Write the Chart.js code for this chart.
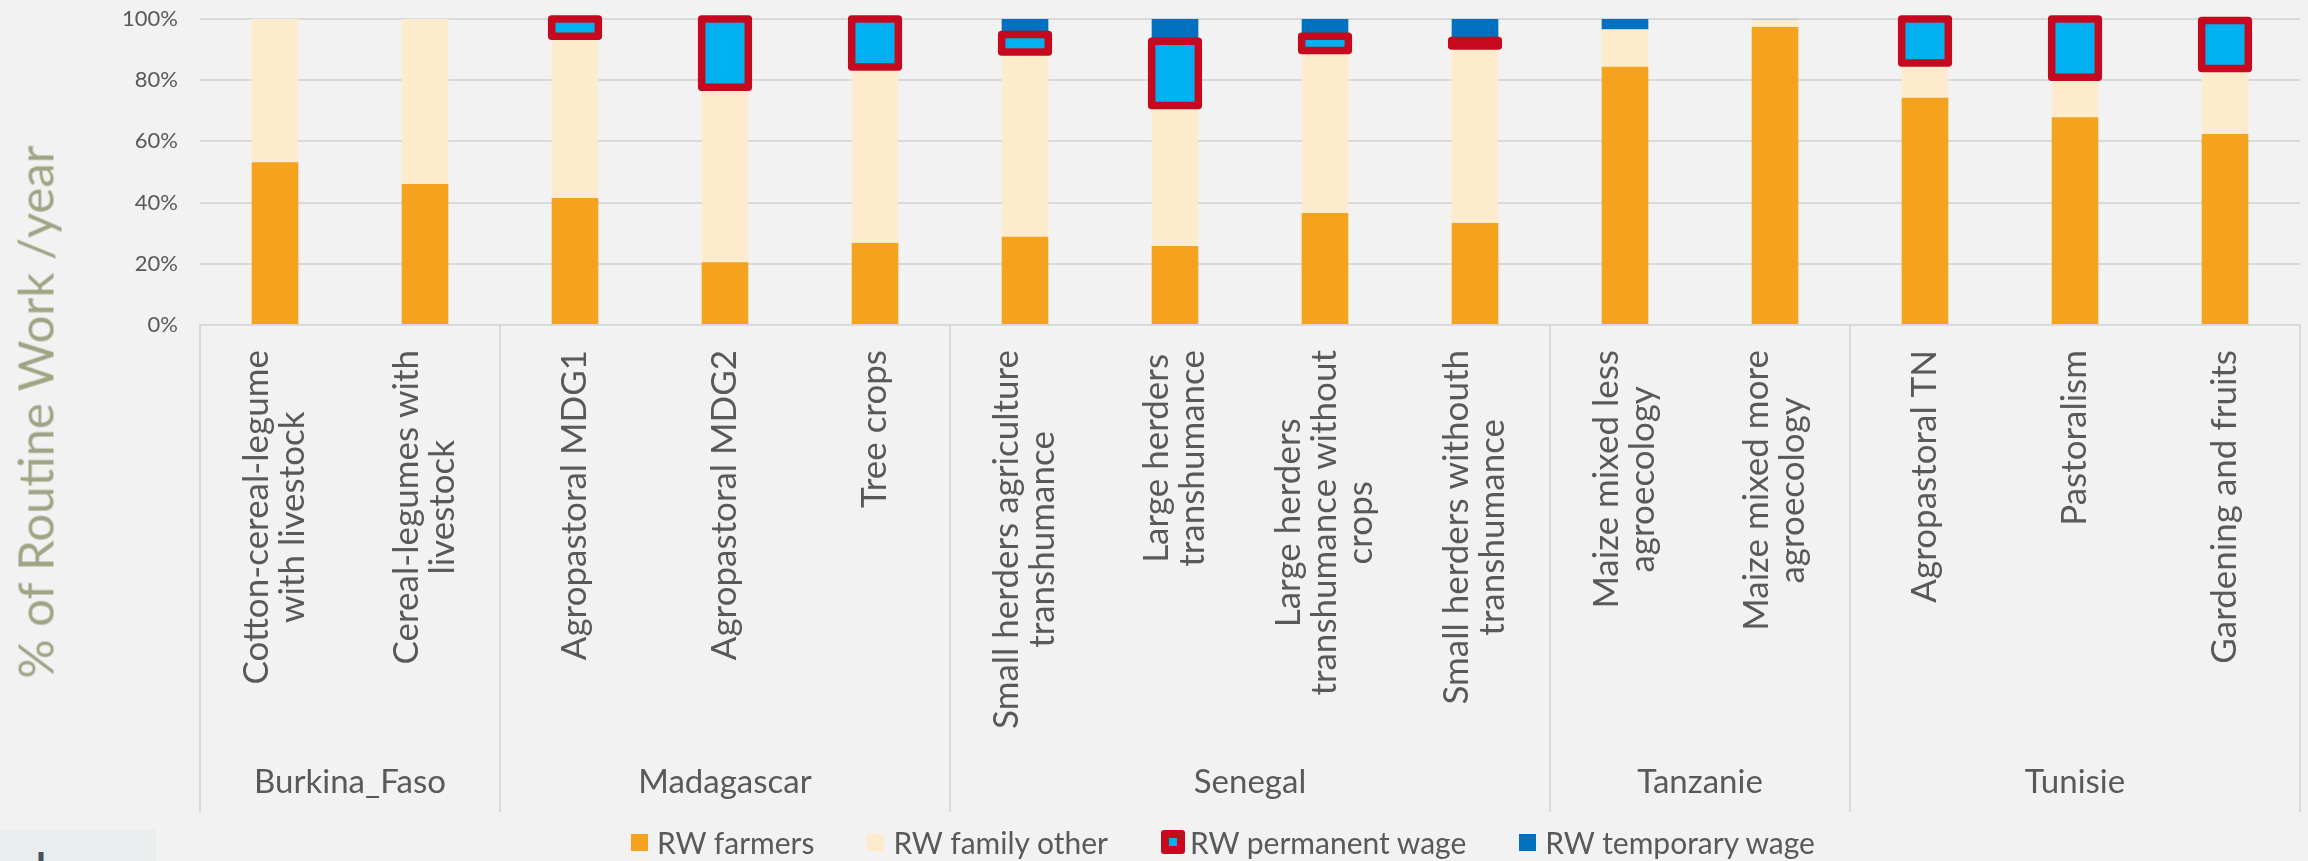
<!DOCTYPE html>
<html>
<head>
<meta charset="utf-8">
<script src="https://cdn.jsdelivr.net/npm/chart.js@4.4.1/dist/chart.umd.min.js"></script>
<style>
  html, body { margin:0; padding:0; background:#F2F2F2; overflow:hidden; }
  #wrap { position:absolute; left:0; top:0; width:2308px; height:861px; }
  #c { position:absolute; left:0; top:0; width:2308px; height:861px; }
  #ytitle { position:absolute; left:35px; top:412px; width:0; height:0; }
  #ytitle span { position:absolute; left:0; top:0; white-space:nowrap; font-family:Lato, sans-serif; font-size:49px; line-height:49px; color:#9EA585; transform:translate(-50%,-50%) rotate(-90deg); }
  #legend { position:absolute; left:631px; top:821px; height:42px; display:flex; align-items:center; font-family:Lato, sans-serif; font-size:30px; line-height:42px; color:#595959; white-space:nowrap; }
  .item { display:flex; align-items:center; margin-right:53px; }
  .mk { display:inline-block; width:17px; height:17px; margin-right:9px; box-sizing:border-box; }
  .mk.perm { width:24px; height:24px; border:8px solid #C50A20; border-radius:3px; margin-right:5px; }
  #corner { position:absolute; left:0; top:830px; width:156px; height:31px; background:#E9EDED; overflow:hidden; }
  #corner span { position:absolute; left:36px; top:17px; font-family:Lato, sans-serif; font-weight:bold; font-size:40px; line-height:40px; color:#4A5256; }
</style>
</head>
<body>
<div id="wrap">
  <canvas id="c" width="2308" height="861"></canvas>
  <div id="ytitle"><span>% of Routine Work /year</span></div>
  <div id="legend"></div>
  <div id="corner"><span>l</span></div>
</div>
<script>
// ---------- data ----------
const categories = [
  ['Cotton-cereal-legume', 'with livestock'],
  ['Cereal-legumes with', 'livestock'],
  ['Agropastoral MDG1'],
  ['Agropastoral MDG2'],
  ['Tree crops'],
  ['Small herders agriculture', 'transhumance'],
  ['Large herders', 'transhumance'],
  ['Large herders', 'transhumance without', 'crops'],
  ['Small herders withouth', 'transhumance'],
  ['Maize mixed less', 'agroecology'],
  ['Maize mixed more', 'agroecology'],
  ['Agropastoral TN'],
  ['Pastoralism'],
  ['Gardening and fruits']
];
const groups = ['Burkina_Faso', 'Madagascar', 'Senegal', 'Tanzanie', 'Tunisie'];
const groupSizes = [2, 3, 4, 2, 3];
const seriesNames = ['RW farmers', 'RW family other', 'RW permanent wage', 'RW temporary wage'];
const farmers   = [53.2, 46.1, 41.5, 20.5, 26.8, 28.8, 25.8, 36.6, 33.3, 84.4, 97.4, 74.3, 67.9, 62.4];
const family    = [46.8, 53.9, 52.9, 57.2, 57.5, 60.45, 45.9, 53.1, 57.9, 12.2, 2.4, 11.3, 13.1, 21.4];
const permanent = [0, 0, 5.6, 22.3, 15.7, 5.7, 21.0, 4.7, 1.8, 0, 0, 14.4, 19.0, 15.7];
const temporary = [0, 0, 0, 0, 0, 5.05, 7.3, 5.6, 7.0, 3.4, 0.2, 0, 0, 0.5];
const yTickValues = [0, 20, 40, 60, 80, 100];

// ---------- styles ----------
const colors = ['#F5A31E', '#FDEBCE', '#00B0F0', '#0070C0'];
const permBorder = '#C50A20';
const textColor = '#595959';
const gridColor = '#D9D9D9';
const FONT = 'Lato, sans-serif';

// ---------- legend (HTML) ----------
const legend = document.getElementById('legend');
seriesNames.forEach((name, i) => {
  const it = document.createElement('span');
  it.className = 'item';
  const mk = document.createElement('span');
  mk.className = 'mk' + (i === 2 ? ' perm' : '');
  mk.style.background = colors[i];
  const tx = document.createElement('span');
  tx.textContent = name;
  it.appendChild(mk); it.appendChild(tx);
  legend.appendChild(it);
});

// ---------- plugin: permanent-wage outline, category & group labels ----------
const decor = {
  id: 'decor',
  afterDatasetsDraw(chart) {
    const ctx = chart.ctx;
    const meta = chart.getDatasetMeta(2);
    ctx.save();
    ctx.strokeStyle = permBorder;
    ctx.lineWidth = 7.5;
    ctx.lineJoin = 'round';
    meta.data.forEach((el, i) => {
      if (!permanent[i]) return;
      const p = el.getProps(['x', 'y', 'base', 'width'], true);
      const l = p.x - p.width / 2;
      const t = Math.min(p.y, p.base);
      const h = Math.abs(p.base - p.y);
      ctx.beginPath();
      ctx.rect(l, t, p.width, h);
      ctx.stroke();
    });
    ctx.restore();
  },
  afterDraw(chart) {
    const ctx = chart.ctx;
    const xs = chart.scales.x;
    const area = chart.chartArea;
    const step = xs.getPixelForValue(1) - xs.getPixelForValue(0);
    const bounds = [xs.getPixelForValue(0) - step / 2];
    let idx = 0;
    groupSizes.forEach(n => { idx += n; bounds.push(xs.getPixelForValue(idx - 1) + step / 2); });

    ctx.save();
    // separators
    ctx.strokeStyle = gridColor;
    ctx.lineWidth = 2;
    bounds.forEach(x => {
      ctx.beginPath();
      ctx.moveTo(x, area.bottom);
      ctx.lineTo(x, 812);
      ctx.stroke();
    });
    // category labels (rotated, lines centred)
    ctx.fillStyle = textColor;
    ctx.font = '35px ' + FONT;
    const lh = 36, yTop = 350;
    categories.forEach((lines, i) => {
      const cx = xs.getPixelForValue(i);
      const maxW = Math.max(...lines.map(s => ctx.measureText(s).width));
      ctx.save();
      ctx.translate(cx, yTop);
      ctx.rotate(-Math.PI / 2);
      ctx.textAlign = 'center';
      ctx.textBaseline = 'middle';
      lines.forEach((s, j) => {
        ctx.fillText(s, -maxW / 2, (j - (lines.length - 1) / 2) * lh);
      });
      ctx.restore();
    });
    // group labels
    ctx.font = '33px ' + FONT;
    ctx.textAlign = 'center';
    ctx.textBaseline = 'alphabetic';
    groups.forEach((g, k) => {
      ctx.fillText(g, (bounds[k] + bounds[k + 1]) / 2, 793);
    });
    ctx.restore();
  }
};

const datasets = seriesNames.map((name, i) => ({
  label: name,
  data: [farmers, family, permanent, temporary][i],
  backgroundColor: colors[i],
  borderWidth: 0,
  barPercentage: 0.311,
  categoryPercentage: 1.0
}));

new Chart(document.getElementById('c'), {
  type: 'bar',
  data: { labels: categories.map(l => l.join(' ')), datasets },
  options: {
    responsive: false,
    animation: false,
    devicePixelRatio: 1,
    layout: { padding: { top: 19, right: 8, left: 0, bottom: 0 } },
    plugins: { legend: { display: false }, tooltip: { enabled: false } },
    scales: {
      x: {
        stacked: true,
        grid: { display: false },
        border: { display: true, color: gridColor, width: 2 },
        ticks: { display: false },
        afterFit(s) { s.height = 536; }
      },
      y: {
        stacked: true,
        min: 0, max: 100,
        afterBuildTicks(s) { s.ticks = yTickValues.map(v => ({ value: v })); },
        ticks: {
          callback: v => v + '%',
          color: textColor,
          font: { family: FONT, size: 22 },
          padding: 0
        },
        grid: { color: gridColor, lineWidth: 2, drawTicks: true, tickLength: 22, tickColor: 'rgba(0,0,0,0)' },
        border: { display: false },
        afterFit(s) { s.width = 200; }
      }
    }
  },
  plugins: [decor]
});
</script>
</body>
</html>
